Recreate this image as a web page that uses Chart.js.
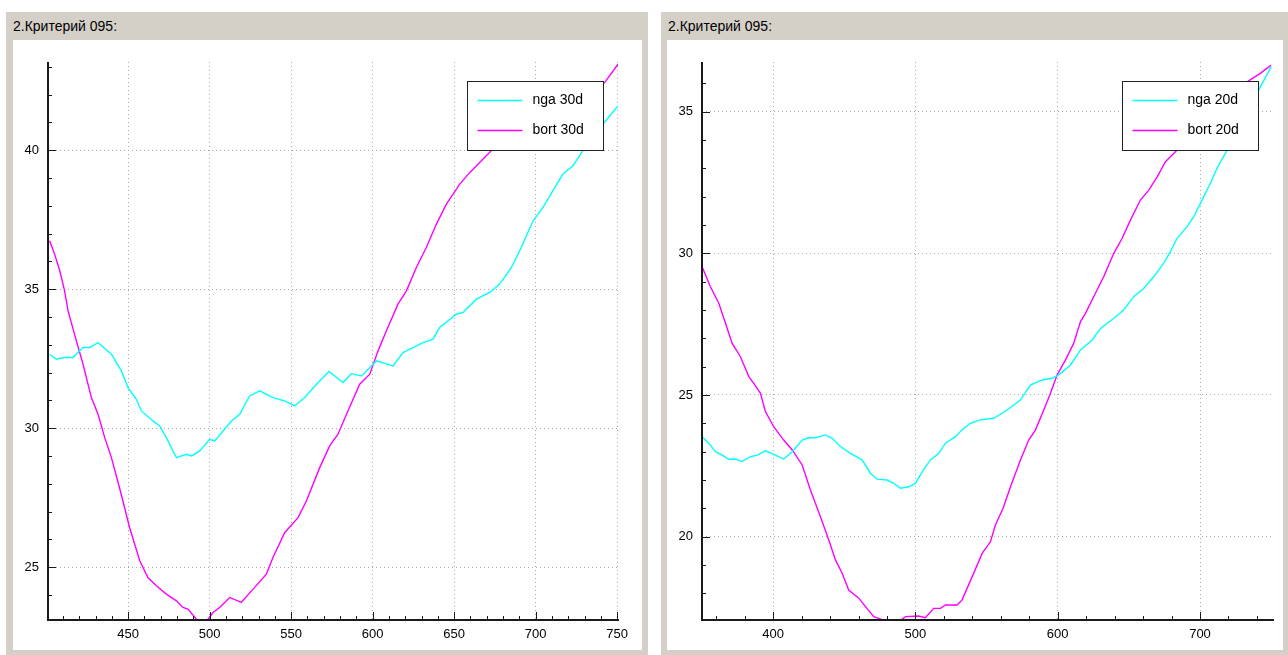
<!DOCTYPE html>
<html>
<head>
<meta charset="utf-8">
<script src="https://cdn.jsdelivr.net/npm/chart.js@4/dist/chart.umd.min.js"></script>
<style>
  html, body { margin: 0; padding: 0; background: #fff; width: 1288px; height: 655px; overflow: hidden; }
  .panel { position: absolute; top: 12px; height: 643px; background: #d4d0c8; }
  .title { position: absolute; left: 7px; top: 0; height: 28px;
           font: 14px "Liberation Sans", Arial, sans-serif; line-height: 28px; color: #000; }
  .inner { position: absolute; top: 28px; height: 610px; background: #fff; }
  canvas { display: block; }
</style>
</head>
<body>
<div class="panel" style="left:6px; width:642px;">
  <div class="title">2.Критерий 095:</div>
  <div class="inner" style="left:7px; width:629px;"><canvas id="chart30" width="629" height="610"></canvas></div>
</div>
<div class="panel" style="left:661px; width:627px;">
  <div class="title">2.Критерий 095:</div>
  <div class="inner" style="left:6px; width:616px;"><canvas id="chart20" width="616" height="610"></canvas></div>
</div>
<script>
// left chart: 30d
const ngaX30 = [401.8,406,411,416.1,422.3,426.4,431.5,439.7,445.8,449.9,455,458.1,465.2,469.3,473.4,477.5,479.6,485.7,488.8,493.9,500,503.1,508.2,513.3,518.4,524.5,530.7,538.8,546,552.1,558.3,565.5,573.2,581.8,586.9,593.1,602.3,612.5,618.6,630.9,637,641.1,651.3,655.4,663.6,671.8,677.9,685.1,690.2,698.4,704.5,710.6,716.7,722.9,729,735,741.3,750.5];
const ngaY30 = [32.66,32.48,32.54,32.54,32.9,32.9,33.08,32.66,32.06,31.46,31.04,30.62,30.26,30.08,29.66,29.18,28.94,29.06,29.0,29.18,29.6,29.54,29.9,30.26,30.5,31.16,31.34,31.1,30.98,30.8,31.1,31.58,32.04,31.64,31.96,31.88,32.42,32.24,32.72,33.08,33.2,33.62,34.1,34.16,34.64,34.88,35.18,35.78,36.38,37.46,37.94,38.54,39.14,39.44,39.98,40.4,40.94,41.59];
const bortX30 = [401.8,404.9,408,411,413.1,418.2,422.3,427.4,431.5,435.6,439.7,445.2,450.9,457.1,462.1,467.3,473.4,479.6,483.6,486.7,491.8,495.9,499,502,506.1,512.3,519.4,526.6,534.8,538.8,546,554.2,559.3,567.5,573.6,578.7,584.8,592,598.2,603.3,608.4,615.5,620.7,626.8,632.9,639.1,645.2,653.4,659.5,667.7,673.8,690,710,730,742.3,750.5];
const bortY30 = [36.74,36.25,35.66,34.94,34.22,33.14,32.3,31.1,30.5,29.66,28.94,27.74,26.42,25.23,24.63,24.33,24.03,23.79,23.55,23.49,23.13,23.07,23.13,23.37,23.55,23.91,23.73,24.21,24.75,25.35,26.24,26.78,27.38,28.58,29.36,29.78,30.62,31.58,31.94,32.78,33.5,34.46,34.94,35.78,36.5,37.34,38.06,38.78,39.19,39.68,40.04,40.7,41.4,42.0,42.43,43.09];
const xTicks30 = [450, 500, 550, 600, 650, 700, 750];
const yTicks30 = [25, 30, 35, 40];

// right chart: 20d
const ngaX20 = [350,354.7,359.5,364.2,368.8,373.5,378.2,384,388.8,394.6,401.6,407.4,413.4,420.4,425,429.7,436.8,441.5,447.3,454.3,462.5,468.4,473.1,480.1,484.8,489.5,495.3,500,504.7,510.5,516.4,521.1,528.1,532.8,538.6,545.7,555,564.4,573.8,580.8,589,596.1,600.7,609,616,624.2,630.1,639.4,646.4,653.4,660.4,667.5,674.5,679.2,683.9,690.9,695.6,700.3,706.1,712,719.1,730,740.1,750];
const ngaY20 = [23.53,23.3,23.0,22.88,22.73,22.74,22.65,22.82,22.88,23.03,22.88,22.74,23.0,23.41,23.49,23.49,23.59,23.47,23.18,22.94,22.71,22.24,22.03,22.0,21.88,21.71,21.76,21.88,22.29,22.71,22.94,23.3,23.53,23.77,24.0,24.12,24.18,24.47,24.82,25.35,25.53,25.59,25.71,26.06,26.59,26.94,27.35,27.71,28.0,28.47,28.76,29.17,29.65,30.06,30.53,30.94,31.29,31.76,32.35,33.0,33.65,34.6,35.65,36.58];
const bortX20 = [350,355.9,361.8,366.5,371.2,377,382.9,386.4,391.1,394.6,400.4,407.4,413.4,420.4,426.2,433.2,439.1,443.8,448.5,453.1,460.2,464.9,470.7,479,488.3,493,502.3,507,512.9,517.6,521.1,529.3,532.8,539.9,546.9,552.7,556.2,561.6,566.8,573.8,579.6,584.3,590.2,594.9,599.6,605.4,611.2,616,619.5,626.5,632.3,639.4,645.3,651.1,658.1,664,669.9,675.7,682.7,700,720,733.1,742.4,750];
const bortY20 = [29.53,28.82,28.24,27.53,26.82,26.35,25.65,25.41,25.06,24.41,23.88,23.41,23.06,22.53,21.65,20.71,19.88,19.18,18.71,18.12,17.83,17.53,17.18,17.03,17.0,17.18,17.2,17.14,17.47,17.47,17.59,17.59,17.77,18.59,19.41,19.82,20.41,21.0,21.76,22.71,23.41,23.76,24.47,25.06,25.71,26.23,26.82,27.59,27.88,28.59,29.17,30.0,30.53,31.17,31.88,32.23,32.7,33.23,33.58,34.4,35.5,36.05,36.35,36.64];
const xTicks20 = [400, 500, 600, 700];
const yTicks20 = [20, 25, 30, 35];

Chart.defaults.font.family = '"Liberation Sans", Arial, sans-serif';
Chart.defaults.font.size = 13;
Chart.defaults.color = '#000';

function zip(xs, ys) {
  return xs.map((x, i) => ({ x: x, y: ys[i] }));
}

// axis backbones with inward ticks and a boxed legend, drawn like the Qwt plot
const qwtFrame = {
  id: 'qwtFrame',
  afterDatasetsDraw(chart, args, opts) {
    const ctx = chart.ctx;
    const a = chart.chartArea;
    const xs = chart.scales.x, ys = chart.scales.y;
    ctx.save();
    ctx.strokeStyle = '#1a1a1a';
    ctx.lineWidth = 1;
    ctx.beginPath();
    // minor + major ticks on x
    const x0 = Math.ceil(xs.min / opts.xMinor) * opts.xMinor;
    for (let v = x0; v <= xs.max; v += opts.xMinor) {
      const px = Math.round(xs.getPixelForValue(v)) + 0.5;
      const len = v % opts.xMajorStep === 0 ? 8 : 4;
      ctx.moveTo(px, a.bottom);
      ctx.lineTo(px, a.bottom - len);
    }
    const y0 = Math.ceil(ys.min / opts.yMinor) * opts.yMinor;
    for (let v = y0; v <= ys.max; v += opts.yMinor) {
      const py = Math.round(ys.getPixelForValue(v)) + 0.5;
      const len = opts.yMajor.includes(v) ? 8 : 4;
      ctx.moveTo(a.left, py);
      ctx.lineTo(a.left + len, py);
    }
    ctx.stroke();
    ctx.lineWidth = 2;
    ctx.beginPath();
    ctx.moveTo(a.left, a.top);
    ctx.lineTo(a.left, a.bottom);
    ctx.lineTo(a.right + 1, a.bottom);
    ctx.stroke();

    // legend box
    const bw = 136, bh = 69;
    const bx = Math.round(a.right - 15 - bw) + 0.5;
    const by = Math.round(a.top + 19) + 0.5;
    ctx.fillStyle = '#fff';
    ctx.fillRect(bx, by, bw, bh);
    ctx.lineWidth = 1;
    ctx.strokeStyle = '#222';
    ctx.strokeRect(bx, by, bw, bh);
    ctx.font = '14px "Liberation Sans", Arial, sans-serif';
    ctx.textBaseline = 'middle';
    ctx.fillStyle = '#000';
    chart.data.datasets.forEach((ds, i) => {
      const ly = by + 19 + i * 30;
      ctx.strokeStyle = ds.borderColor;
      ctx.lineWidth = 1.5;
      ctx.beginPath();
      ctx.moveTo(bx + 10, ly);
      ctx.lineTo(bx + 55, ly);
      ctx.stroke();
      ctx.fillText(ds.label, bx + 65, ly);
    });
    ctx.restore();
  }
};

function makeChart(id, series, xr, yr, xTicks, yTicks, minor, padRight) {
  return new Chart(document.getElementById(id), {
    type: 'line',
    data: {
      datasets: series.map(s => ({
        label: s.label,
        data: s.data,
        borderColor: s.color,
        borderWidth: 1.4,
        pointRadius: 0,
        tension: 0,
        fill: false
      }))
    },
    options: {
      responsive: false,
      animation: false,
      layout: { padding: { top: 22, right: padRight, bottom: 0, left: 0 } },
      plugins: {
        legend: { display: false },
        tooltip: { enabled: false },
        qwtFrame: { xMinor: minor.x, xMajorStep: minor.xStep, yMinor: 1, yMajor: yTicks }
      },
      scales: {
        x: {
          type: 'linear',
          min: xr[0], max: xr[1],
          afterBuildTicks: sc => { sc.ticks = xTicks.map(v => ({ value: v })); },
          afterFit: sc => { sc.height = 30; },
          ticks: { padding: 7, autoSkip: false, maxRotation: 0 },
          grid: { color: '#a8a8a8', drawTicks: false },
          border: { display: false, dash: [1, 3] }
        },
        y: {
          min: yr[0], max: yr[1],
          afterBuildTicks: sc => { sc.ticks = yTicks.map(v => ({ value: v })); },
          afterFit: sc => { sc.width = 35; },
          ticks: { padding: 9 },
          grid: { color: '#a8a8a8', drawTicks: false },
          border: { display: false, dash: [1, 3] }
        }
      }
    },
    plugins: [qwtFrame]
  });
}

makeChart('chart30', [
  { label: 'nga 30d', data: zip(ngaX30, ngaY30), color: '#00ffff' },
  { label: 'bort 30d', data: zip(bortX30, bortY30), color: '#ff00ff' }
], [400.8, 750.5], [23.1, 43.17], xTicks30, yTicks30, { x: 10, xStep: 50 }, 24);

makeChart('chart20', [
  { label: 'nga 20d', data: zip(ngaX20, ngaY20), color: '#00ffff' },
  { label: 'bort 20d', data: zip(bortX20, bortY20), color: '#ff00ff' }
], [350, 751.3], [17.06, 36.75], xTicks20, yTicks20, { x: 20, xStep: 100 }, 10);
</script>
</body>
</html>
